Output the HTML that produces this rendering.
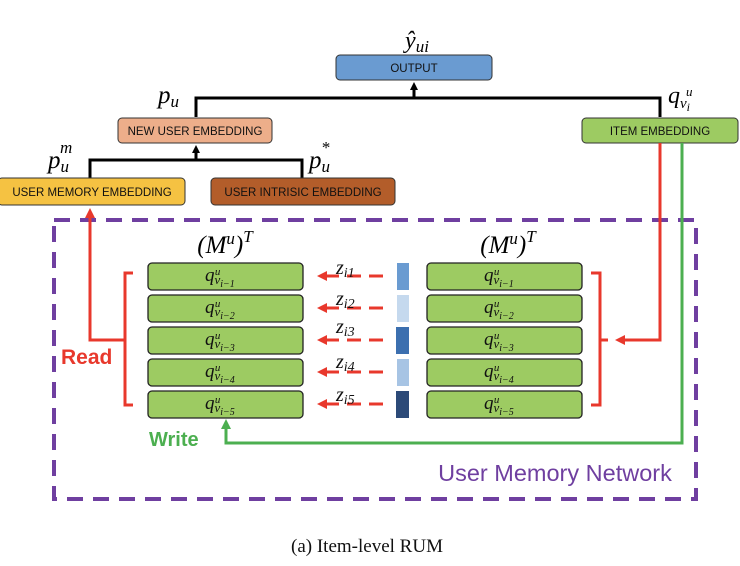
<!DOCTYPE html>
<html><head><meta charset="utf-8"><style>
html,body{margin:0;padding:0;background:#fff;}
svg{display:block;}
.m{font-family:"Liberation Serif",serif;font-style:italic;}
.b{font-family:"Liberation Sans",sans-serif;font-size:11.5px;fill:#111;text-anchor:middle;}
</style></head><body>
<svg width="740" height="566" viewBox="0 0 740 566" xmlns="http://www.w3.org/2000/svg">
<defs>
<marker id="ak" markerWidth="8" markerHeight="8" refX="4" refY="4" orient="auto" markerUnits="userSpaceOnUse"><path d="M0,0 L8,4 L0,8 z" fill="#000"/></marker>
<marker id="ar" markerWidth="10" markerHeight="10" refX="5" refY="5" orient="auto" markerUnits="userSpaceOnUse"><path d="M0,0 L10,5 L0,10 z" fill="#e8382c"/></marker>
<marker id="ag" markerWidth="10" markerHeight="10" refX="5" refY="5" orient="auto" markerUnits="userSpaceOnUse"><path d="M0,0 L10,5 L0,10 z" fill="#4caf50"/></marker>
</defs>
<rect x="336" y="55" width="156" height="25" rx="4" fill="#6a9bd1" stroke="#333"/>
<text x="414" y="72" class="b">OUTPUT</text>
<text x="417" y="48" class="m" font-size="24" text-anchor="middle">ŷ<tspan font-size="17" dy="4">ui</tspan></text>
<polyline points="196,117 196,98 660,98 660,117" fill="none" stroke="#000" stroke-width="3"/>
<line x1="414" y1="98" x2="414" y2="86" stroke="#000" stroke-width="3" marker-end="url(#ak)"/>
<text x="158" y="103" class="m" font-size="25">p<tspan font-size="17" dy="4">u</tspan></text>
<text x="668" y="103" class="m" font-size="24">q<tspan font-size="15" dy="5">v</tspan><tspan font-size="12" dy="3">i</tspan><tspan font-size="13" dy="-15" dx="-4">u</tspan></text>
<rect x="118" y="118" width="154" height="25" rx="4" fill="#edae8a" stroke="#333"/>
<text x="195" y="135" class="b" font-size="10.5">NEW USER EMBEDDING</text>
<rect x="582" y="118" width="156" height="25" rx="4" fill="#9dcb62" stroke="#333"/>
<text x="660" y="135" class="b">ITEM EMBEDDING</text>
<polyline points="90,178 90,160 302,160 302,178" fill="none" stroke="#000" stroke-width="3"/>
<line x1="196" y1="160" x2="196" y2="149" stroke="#000" stroke-width="3" marker-end="url(#ak)"/>
<text x="48" y="168" class="m" font-size="25">p<tspan font-size="17" dy="4">u</tspan><tspan font-size="17" dy="-19" dx="-9">m</tspan></text>
<text x="309" y="168" class="m" font-size="25">p<tspan font-size="17" dy="4">u</tspan><tspan font-size="17" dy="-19" dx="-9">*</tspan></text>
<rect x="-2" y="178" width="187" height="27" rx="4" fill="#f5c242" stroke="#333"/>
<text x="92" y="196" class="b" font-size="10.5">USER MEMORY EMBEDDING</text>
<rect x="211" y="178" width="184" height="27" rx="4" fill="#b35d2a" stroke="#333"/>
<text x="303" y="196" class="b" font-size="10.5">USER INTRISIC EMBEDDING</text>
<rect x="54" y="220" width="642" height="279" fill="none" stroke="#6f3fa0" stroke-width="4" stroke-dasharray="16,10"/>
<text x="555" y="481" font-family="Liberation Sans,sans-serif" font-size="23.5" fill="#6f3fa0" text-anchor="middle">User Memory Network</text>
<polyline points="660,143 660,340 620,340" fill="none" stroke="#e8382c" stroke-width="3" marker-end="url(#ar)"/>
<polyline points="125,340 90,340 90,213" fill="none" stroke="#e8382c" stroke-width="3" marker-end="url(#ar)"/>
<polyline points="133,273 125,273 125,405 133,405" fill="none" stroke="#e8382c" stroke-width="3"/>
<polyline points="591,273 600,273 600,405 591,405" fill="none" stroke="#e8382c" stroke-width="3"/>
<line x1="600" y1="340" x2="608" y2="340" stroke="#e8382c" stroke-width="3"/>
<text x="61" y="364" font-family="Liberation Sans,sans-serif" font-weight="bold" font-size="21" fill="#e8382c">Read</text>
<polyline points="682,143 682,443 226,443 226,424" fill="none" stroke="#4caf50" stroke-width="3" marker-end="url(#ag)"/>
<text x="149" y="446" font-family="Liberation Sans,sans-serif" font-weight="bold" font-size="20" fill="#4caf50">Write</text>
<text x="225" y="253" class="m" font-size="25" text-anchor="middle" font-style="normal">(<tspan font-style="italic">M</tspan><tspan font-size="17" dy="-9" font-style="italic">u</tspan><tspan dy="9">)</tspan><tspan font-size="17" dy="-11" font-style="italic">T</tspan></text>
<text x="508" y="253" class="m" font-size="25" text-anchor="middle" font-style="normal">(<tspan font-style="italic">M</tspan><tspan font-size="17" dy="-9" font-style="italic">u</tspan><tspan dy="9">)</tspan><tspan font-size="17" dy="-11" font-style="italic">T</tspan></text>
<g>
<rect x="148" y="263" width="155" height="27" rx="4" fill="#9dcb62" stroke="#222" stroke-width="1.3"/>
<rect x="148" y="295" width="155" height="27" rx="4" fill="#9dcb62" stroke="#222" stroke-width="1.3"/>
<rect x="148" y="327" width="155" height="27" rx="4" fill="#9dcb62" stroke="#222" stroke-width="1.3"/>
<rect x="148" y="359" width="155" height="27" rx="4" fill="#9dcb62" stroke="#222" stroke-width="1.3"/>
<rect x="148" y="391" width="155" height="27" rx="4" fill="#9dcb62" stroke="#222" stroke-width="1.3"/>
<rect x="427" y="263" width="155" height="27" rx="4" fill="#9dcb62" stroke="#222" stroke-width="1.3"/>
<rect x="427" y="295" width="155" height="27" rx="4" fill="#9dcb62" stroke="#222" stroke-width="1.3"/>
<rect x="427" y="327" width="155" height="27" rx="4" fill="#9dcb62" stroke="#222" stroke-width="1.3"/>
<rect x="427" y="359" width="155" height="27" rx="4" fill="#9dcb62" stroke="#222" stroke-width="1.3"/>
<rect x="427" y="391" width="155" height="27" rx="4" fill="#9dcb62" stroke="#222" stroke-width="1.3"/>
</g>
<g font-family="Liberation Serif,serif" font-style="italic" fill="#111">
<text x="205" y="281" font-size="19">q<tspan font-size="13" dy="3">v</tspan><tspan font-size="10" dy="3">i−1</tspan><tspan font-size="11" dy="-12" dx="-20">u</tspan></text>
<text x="205" y="313" font-size="19">q<tspan font-size="13" dy="3">v</tspan><tspan font-size="10" dy="3">i−2</tspan><tspan font-size="11" dy="-12" dx="-20">u</tspan></text>
<text x="205" y="345" font-size="19">q<tspan font-size="13" dy="3">v</tspan><tspan font-size="10" dy="3">i−3</tspan><tspan font-size="11" dy="-12" dx="-20">u</tspan></text>
<text x="205" y="377" font-size="19">q<tspan font-size="13" dy="3">v</tspan><tspan font-size="10" dy="3">i−4</tspan><tspan font-size="11" dy="-12" dx="-20">u</tspan></text>
<text x="205" y="409" font-size="19">q<tspan font-size="13" dy="3">v</tspan><tspan font-size="10" dy="3">i−5</tspan><tspan font-size="11" dy="-12" dx="-20">u</tspan></text>
<text x="484" y="281" font-size="19">q<tspan font-size="13" dy="3">v</tspan><tspan font-size="10" dy="3">i−1</tspan><tspan font-size="11" dy="-12" dx="-20">u</tspan></text>
<text x="484" y="313" font-size="19">q<tspan font-size="13" dy="3">v</tspan><tspan font-size="10" dy="3">i−2</tspan><tspan font-size="11" dy="-12" dx="-20">u</tspan></text>
<text x="484" y="345" font-size="19">q<tspan font-size="13" dy="3">v</tspan><tspan font-size="10" dy="3">i−3</tspan><tspan font-size="11" dy="-12" dx="-20">u</tspan></text>
<text x="484" y="377" font-size="19">q<tspan font-size="13" dy="3">v</tspan><tspan font-size="10" dy="3">i−4</tspan><tspan font-size="11" dy="-12" dx="-20">u</tspan></text>
<text x="484" y="409" font-size="19">q<tspan font-size="13" dy="3">v</tspan><tspan font-size="10" dy="3">i−5</tspan><tspan font-size="11" dy="-12" dx="-20">u</tspan></text>
</g>
<g stroke="#e8382c" stroke-width="3" stroke-dasharray="14,8">
<line x1="383" y1="276" x2="322" y2="276" marker-end="url(#ar)"/>
<line x1="383" y1="308" x2="322" y2="308" marker-end="url(#ar)"/>
<line x1="383" y1="340" x2="322" y2="340" marker-end="url(#ar)"/>
<line x1="383" y1="372" x2="322" y2="372" marker-end="url(#ar)"/>
<line x1="383" y1="404" x2="322" y2="404" marker-end="url(#ar)"/>
</g>
<g font-family="Liberation Serif,serif" font-style="italic" font-size="20" fill="#111">
<text x="336" y="274">z<tspan font-size="14" dy="3">i1</tspan></text>
<text x="336" y="305">z<tspan font-size="14" dy="3">i2</tspan></text>
<text x="336" y="333">z<tspan font-size="14" dy="3">i3</tspan></text>
<text x="336" y="368">z<tspan font-size="14" dy="3">i4</tspan></text>
<text x="336" y="401">z<tspan font-size="14" dy="3">i5</tspan></text>
</g>
<rect x="397" y="263" width="12" height="27" fill="#6a9bd1"/>
<rect x="397" y="295" width="12" height="27" fill="#c5d9ee"/>
<rect x="396" y="327" width="13" height="27" fill="#3c6faf"/>
<rect x="397" y="359" width="12" height="27" fill="#a7c4e4"/>
<rect x="396" y="391" width="13" height="27" fill="#2c4a78"/>
<text x="367" y="552" font-family="Liberation Serif,serif" font-size="19" fill="#111" text-anchor="middle">(a)  Item-level RUM</text>
</svg>
</body></html>
